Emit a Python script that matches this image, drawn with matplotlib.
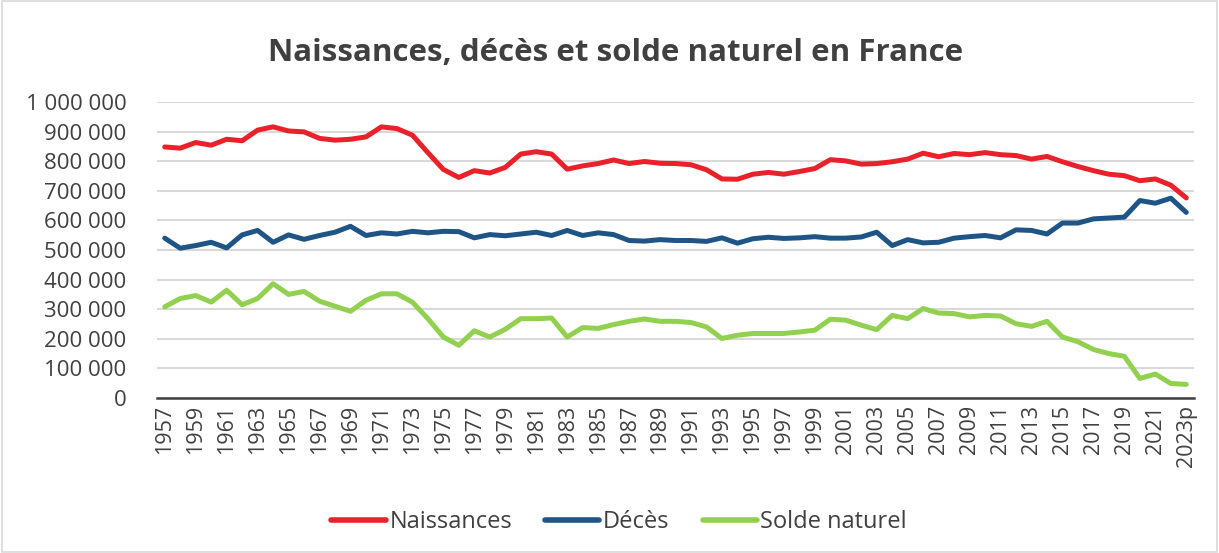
import matplotlib
matplotlib.use("Agg")
import matplotlib.pyplot as plt
from matplotlib.patches import Rectangle

years = [str(y) for y in range(1957, 2023)] + ["2023p"]

naissances = [848, 844, 863, 854, 874, 869, 905, 916, 902, 899,
              877, 871, 874, 882, 916, 910, 888, 829, 772, 745,
              768, 760, 779, 824, 832, 824, 773, 784, 792, 804,
              792, 799, 793, 792, 788, 771, 740, 739, 756, 762,
              756, 765, 775, 805, 801, 790, 792, 798, 807, 827,
              815, 826, 822, 829, 822, 819, 807, 816, 798, 782,
              768, 756, 751, 734, 740, 719, 676]

deces = [540, 506, 515, 526, 507, 551, 566, 526, 551, 536,
         549, 560, 580, 549, 558, 554, 563, 558, 563, 562,
         541, 552, 548, 554, 560, 549, 566, 549, 558, 552,
         532, 530, 535, 532, 532, 529, 541, 523, 538, 543,
         539, 541, 545, 540, 540, 544, 560, 515, 535, 524,
         526, 540, 545, 549, 541, 568, 566, 554, 591, 591,
         605, 608, 611, 667, 658, 675, 627]

solde = [308, 336, 346, 324, 364, 315, 336, 386, 350, 360,
         327, 310, 293, 330, 352, 352, 324, 268, 206, 178,
         227, 206, 232, 268, 268, 270, 206, 238, 235, 248,
         259, 267, 259, 259, 255, 240, 201, 212, 218, 218,
         218, 223, 229, 266, 263, 246, 231, 279, 268, 302,
         287, 285, 274, 279, 277, 251, 242, 259, 206, 190,
         164, 150, 141, 66, 81, 49, 46]

ytick_values = list(range(0, 1000001, 100000))

plt.rcParams["font.family"] = ["Open Sans", "DejaVu Sans"]

fig = plt.figure(figsize=(12.19, 5.53), dpi=100)
fig.patches.append(Rectangle((0.002, 0.002), 0.996, 0.996, transform=fig.transFigure,
                             fill=False, edgecolor="#d9d9d9", linewidth=1.2))
ax = fig.add_axes([0.1288, 0.2803, 0.8507, 0.5353])

x = list(range(len(years)))
kw = dict(lw=3.6, solid_capstyle="round", solid_joinstyle="round")
ax.plot(x, [v * 1000 for v in naissances], color="#E8212B", label="Naissances", **kw)
ax.plot(x, [v * 1000 for v in deces], color="#1F5586", label="Décès", **kw)
ax.plot(x, [v * 1000 for v in solde], color="#92D050", label="Solde naturel", **kw)

ax.set_xlim(-0.5, len(years) - 0.5)
ax.set_ylim(0, 1000000)
ax.set_yticks(ytick_values)
ax.set_yticklabels([f"{v:,}".replace(",", " ") for v in ytick_values], fontsize=16, color="#404040")
ax.set_xticks(x[::2])
ax.set_xticklabels(years[::2], rotation=90, fontsize=15.5, color="#404040")
ax.tick_params(axis="y", length=0, pad=22)
ax.tick_params(axis="x", length=0, pad=5)
ax.grid(axis="y", color="#d9d9d9", lw=1.5)
ax.set_axisbelow(True)
for s in ["top", "right", "left"]:
    ax.spines[s].set_visible(False)
ax.spines["bottom"].set_color("#404040")
ax.spines["bottom"].set_linewidth(1.8)

fig.text(0.505, 0.905, "Naissances, décès et solde naturel en France", ha="center", va="center",
         fontsize=22.5, fontweight="bold", color="#404040")

leg = ax.legend(loc="center", bbox_to_anchor=(0.508, 0.056), bbox_transform=fig.transFigure,
                ncol=3, frameon=False, fontsize=17, handlelength=2.3, columnspacing=1.4,
                handletextpad=0.15, labelcolor="#404040")
for h in leg.get_lines():
    h.set_linewidth(4.0)

fig.savefig("out.png", dpi=100)
